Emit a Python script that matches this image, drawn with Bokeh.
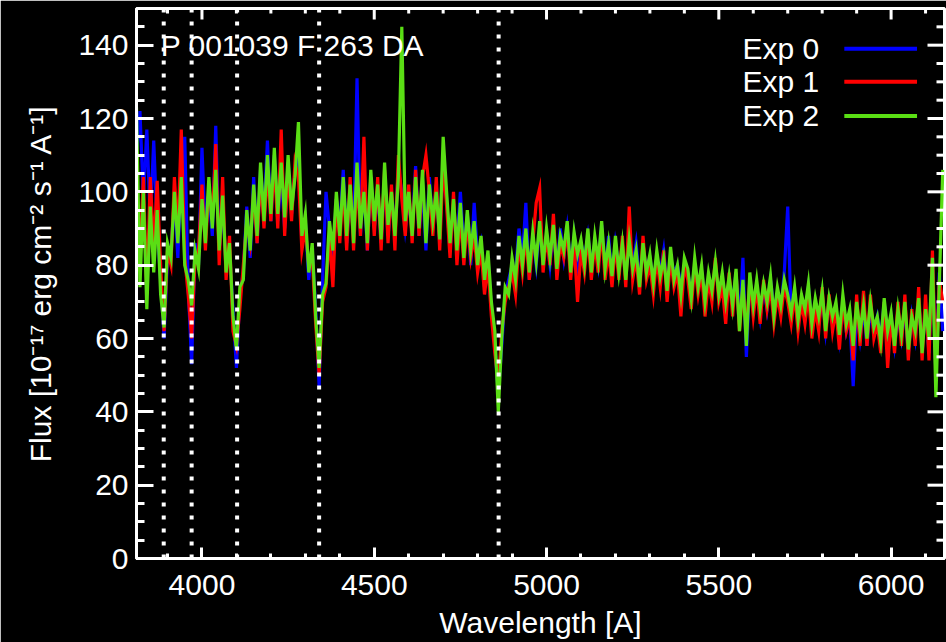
from bokeh.plotting import figure
from bokeh.models import Range1d, SingleIntervalTicker, Span, Label
from bokeh.embed import file_html
from bokeh.resources import INLINE

# ---------------- data ----------------
wave = list(range(3810, 6151, 10))  # Angstrom sampling grid

exp0 = [  # blue
    110, 122, 98, 117, 92, 114, 90, 76, 60, 82,
    84, 98, 82, 106, 115, 74, 53, 86, 80, 112,
    88, 100, 88, 118, 84, 96, 80, 84, 68, 52,
    72, 78, 96, 82, 104, 86, 106, 94, 114, 92,
    110, 92, 104, 90, 108, 94, 106, 110, 86, 92,
    76, 84, 68, 47, 76, 100, 90, 82, 98, 90,
    106, 86, 100, 88, 131, 88, 102, 84, 104, 90,
    100, 86, 104, 88, 98, 90, 106, 100, 90, 98,
    90, 107, 88, 102, 84, 104, 90, 102, 86, 110,
    98, 84, 96, 86, 100, 84, 94, 80, 97, 82,
    86, 74, 82, 68, 58, 45, 58, 72, 76, 80,
    78, 90, 82, 97, 76, 88, 80, 90, 82, 88,
    80, 90, 78, 90, 82, 90, 80, 88, 80, 86,
    82, 88, 80, 86, 80, 91, 78, 88, 76, 86,
    80, 84, 78, 86, 80, 86, 76, 84, 80, 82,
    76, 82, 78, 84, 74, 82, 78, 80, 74, 80,
    78, 72, 80, 74, 78, 72, 76, 74, 78, 74,
    76, 68, 76, 70, 78, 64, 82, 55, 76, 70,
    74, 66, 74, 68, 76, 68, 72, 68, 78, 96,
    66, 72, 64, 70, 66, 74, 64, 70, 64, 72,
    62, 70, 64, 68, 60, 70, 62, 66, 47, 68,
    60, 68, 58, 68, 62, 66, 60, 70, 60, 66,
    58, 66, 60, 68, 56, 66, 60, 70, 58, 68,
    56, 82, 50, 78, 62,
]

exp1 = [  # red
    96, 82, 104, 72, 104, 84, 103, 80, 62, 84,
    80, 104, 88, 117, 82, 72, 60, 82, 84, 102,
    84, 102, 92, 113, 80, 104, 76, 88, 62, 58,
    68, 80, 92, 86, 100, 86, 104, 90, 106, 92,
    108, 90, 117, 88, 106, 92, 108, 104, 84, 90,
    80, 82, 64, 50, 70, 74, 88, 74, 98, 86,
    102, 84, 104, 84, 104, 88, 115, 84, 104, 88,
    104, 84, 106, 86, 102, 84, 110, 98, 88, 102,
    86, 106, 88, 104, 110, 100, 88, 104, 84, 108,
    96, 82, 100, 80, 94, 80, 92, 82, 88, 78,
    84, 72, 80, 66, 56, 48, 62, 70, 74, 78,
    72, 86, 78, 88, 76, 86, 97, 101, 78, 88,
    80, 94, 76, 86, 82, 90, 76, 86, 70, 84,
    78, 88, 76, 86, 78, 90, 76, 84, 74, 86,
    76, 88, 74, 96, 76, 82, 72, 88, 76, 80,
    72, 82, 74, 84, 70, 82, 74, 78, 66, 80,
    76, 68, 80, 72, 78, 66, 76, 70, 82, 70,
    74, 64, 78, 66, 78, 62, 74, 62, 76, 66,
    74, 64, 76, 68, 74, 64, 72, 66, 74, 70,
    64, 72, 62, 70, 64, 72, 60, 68, 62, 74,
    60, 72, 62, 68, 57, 70, 62, 66, 54, 72,
    58, 73, 58, 72, 60, 64, 56, 70, 52, 66,
    56, 70, 58, 72, 54, 68, 58, 74, 54, 72,
    54, 84, 50, 76, 70,
]

exp2 = [  # green
    123, 74, 100, 68, 96, 78, 95, 72, 63, 86,
    82, 100, 86, 104, 80, 76, 69, 84, 79, 98,
    86, 104, 90, 106, 84, 99, 78, 86, 66, 57,
    74, 76, 95, 84, 102, 88, 108, 92, 110, 94,
    112, 94, 108, 93, 110, 95, 104, 119, 88, 94,
    78, 86, 66, 52, 72, 75, 92, 84, 100, 88,
    104, 88, 102, 86, 108, 90, 100, 86, 106, 92,
    102, 87, 108, 91, 100, 88, 104, 145, 92, 100,
    88, 104, 90, 106, 86, 102, 92, 100, 87, 115,
    100, 86, 98, 84, 97, 82, 95, 84, 92, 80,
    88, 76, 84, 70, 62, 40, 60, 74, 72, 82,
    76, 88, 80, 90, 78, 89, 81, 92, 80, 90,
    82, 91, 79, 88, 84, 92, 78, 89, 83, 87,
    80, 90, 78, 88, 81, 92, 79, 86, 77, 88,
    78, 86, 76, 87, 79, 84, 74, 86, 78, 83,
    75, 84, 77, 82, 73, 85, 76, 80, 72, 82,
    79, 71, 82, 74, 80, 70, 78, 73, 81, 72,
    78, 70, 77, 69, 79, 62, 76, 58, 78, 69,
    76, 68, 75, 70, 77, 66, 74, 69, 76, 72,
    67, 74, 65, 72, 68, 75, 64, 71, 66, 73,
    62, 71, 66, 70, 61, 72, 64, 68, 58, 70,
    62, 69, 60, 70, 63, 66, 59, 71, 62, 67,
    58, 68, 61, 70, 57, 66, 62, 71, 56, 68,
    60, 82, 44, 75, 106,
]

series_names = ["Exp 0", "Exp 1", "Exp 2"]
series_colors = ["#0000ff", "#ff0000", "#5ade14"]
balmer_lines = [3889, 3970, 4102, 4340, 4861]
title_text = "P 001039 F 263 DA"

X_MIN, X_MAX = 3810, 6155
Y_MIN, Y_MAX = 0, 150
X_MAJOR, X_MINOR = 500, 100
Y_MAJOR, Y_MINOR = 20, 5

FONT = "Liberation Sans"
FS = "30px"

W, H = 946, 642
B_LEFT, B_RIGHT, B_TOP, B_BOTTOM = 136, 2, 8, 84
FRAME_W = W - B_LEFT - B_RIGHT
FRAME_H = H - B_TOP - B_BOTTOM
PX_X = (X_MAX - X_MIN) / FRAME_W   # data units per pixel
PX_Y = (Y_MAX - Y_MIN) / FRAME_H

# ---------------- figure ----------------
p = figure(width=W, height=H, output_backend="svg", toolbar_location=None,
           x_range=Range1d(X_MIN, X_MAX), y_range=Range1d(Y_MIN, Y_MAX),
           min_border_left=B_LEFT, min_border_right=B_RIGHT, min_border_top=B_TOP,
           min_border_bottom=B_BOTTOM)
p.background_fill_color = "black"
p.border_fill_color = "black"
p.outline_line_color = "white"
p.outline_line_width = 3
p.grid.visible = False

for ys, c in zip([exp0, exp1, exp2], series_colors):
    p.line(wave, ys, line_color=c, line_width=3.2, line_join="miter")

for b in balmer_lines:
    p.add_layout(Span(location=b, dimension="height", line_color="white",
                      line_width=4, line_dash="4 9"))


def style_axis(ax, major_in, minor_in):
    ax.axis_line_color = "white"
    ax.axis_line_width = 3
    ax.major_tick_line_color = "white"
    ax.minor_tick_line_color = "white"
    ax.major_tick_line_width = 3
    ax.minor_tick_line_width = 3
    ax.major_tick_in = major_in
    ax.major_tick_out = 0
    ax.minor_tick_in = minor_in
    ax.minor_tick_out = 0
    ax.major_label_text_color = "white"
    ax.major_label_text_font = FONT
    ax.major_label_text_font_size = FS
    ax.axis_label_text_color = "white"
    ax.axis_label_text_font = FONT
    ax.axis_label_text_font_style = "normal"
    ax.axis_label_text_font_size = FS


X_TICK_MAJ, X_TICK_MIN = 11, 5
Y_TICK_MAJ, Y_TICK_MIN = 17, 8

xa = p.xaxis[0]
xa.ticker = SingleIntervalTicker(interval=X_MAJOR, num_minor_ticks=X_MAJOR // X_MINOR)
style_axis(xa, X_TICK_MAJ, X_TICK_MIN)
xa.major_label_standoff = 16
xa.axis_label = "Wavelength [A]"
xa.axis_label_standoff = 8

ya = p.yaxis[0]
ya.ticker = SingleIntervalTicker(interval=Y_MAJOR, num_minor_ticks=Y_MAJOR // Y_MINOR)
style_axis(ya, Y_TICK_MAJ, Y_TICK_MIN)
ya.major_label_standoff = 8
ya.axis_label = "Flux [10\u207b\u00b9\u2077 erg cm\u207b\u00b2 s\u207b\u00b9 A\u207b\u00b9]"
ya.axis_label_standoff = 18

# inward ticks on the top and right edges (IDL-style box)
x_major = [v for v in range(4000, X_MAX + 1, X_MAJOR)]
x_minor = [v for v in range(3900, X_MAX + 1, X_MINOR) if v % X_MAJOR]
y_major = [v for v in range(Y_MIN + Y_MAJOR, Y_MAX, Y_MAJOR)]
y_minor = [v for v in range(Y_MIN, Y_MAX, Y_MINOR) if v % Y_MAJOR]
for xs, ln in ((x_major, X_TICK_MAJ), (x_minor, X_TICK_MIN)):
    p.segment(x0=xs, y0=[Y_MAX - 0.5 * PX_Y] * len(xs), x1=xs,
              y1=[Y_MAX - ln * PX_Y] * len(xs),
              line_color="white", line_width=3, level="overlay")
for ys_, ln in ((y_major, Y_TICK_MAJ), (y_minor, Y_TICK_MIN)):
    p.segment(x0=[X_MAX - 0.5 * PX_X] * len(ys_), y0=ys_,
              x1=[X_MAX - ln * PX_X] * len(ys_), y1=ys_,
              line_color="white", line_width=3, level="overlay")

# title inside the plot
p.add_layout(Label(x=X_MIN + 0.0299 * (X_MAX - X_MIN), y=Y_MIN + 0.933 * (Y_MAX - Y_MIN),
                   text=title_text, text_color="white", text_font=FONT,
                   text_font_size=FS, text_baseline="middle"))

# legend: text on the left, line sample on the right
leg_y = [139.0, 130.0, 120.7]
tx = X_MIN + 0.845 * (X_MAX - X_MIN)
lx0 = X_MIN + 0.876 * (X_MAX - X_MIN)
lx1 = X_MIN + 0.966 * (X_MAX - X_MIN)
for name, c, yy in zip(series_names, series_colors, leg_y):
    p.add_layout(Label(x=tx, y=yy, text=name, text_color="white", text_font=FONT,
                       text_font_size=FS, text_baseline="middle", text_align="right"))
    p.segment(x0=[lx0], y0=[yy], x1=[lx1], y1=[yy], line_color=c, line_width=4)

open("out.html", "w").write(file_html(p, INLINE))
